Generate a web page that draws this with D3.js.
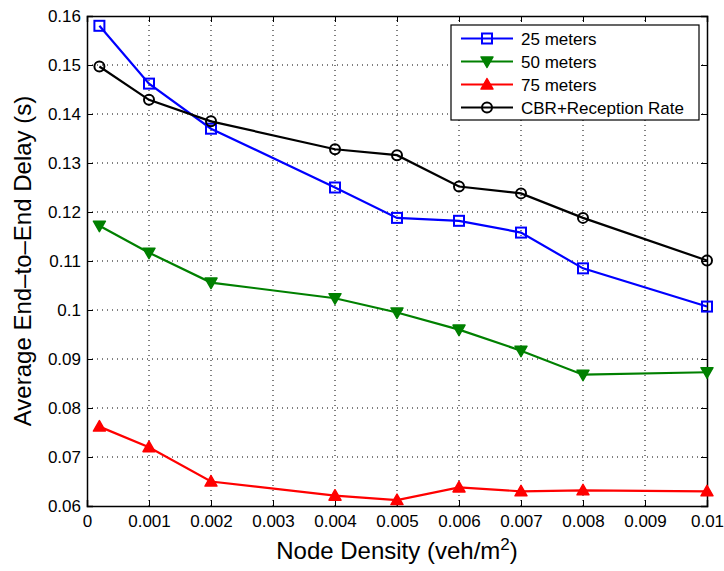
<!DOCTYPE html>
<html>
<head>
<meta charset="utf-8">
<script src="https://d3js.org/d3.v7.min.js"></script>
<style>
  body { margin: 0; background: #fff; }
  svg text { font-family: "Liberation Sans", Arial, Helvetica, sans-serif; }
</style>
</head>
<body>
<svg width="724" height="571"></svg>
<script>
// data
const density = [0.0002, 0.001, 0.002, 0.004, 0.005, 0.006, 0.007, 0.008, 0.01];
const m25 = [0.1580, 0.1462, 0.1370, 0.1250, 0.1188, 0.1182, 0.1158, 0.1085, 0.1007];
const m50 = [0.1172, 0.1117, 0.1056, 0.1024, 0.0995, 0.0960, 0.0917, 0.0868, 0.0873];
const m75 = [0.0762, 0.0720, 0.0650, 0.0621, 0.0612, 0.0638, 0.0630, 0.0632, 0.0630];
const cbr = [0.1497, 0.1429, 0.1385, 0.1328, 0.1316, 0.1252, 0.1238, 0.1188, 0.1101];
const xTicks = [0, 0.001, 0.002, 0.003, 0.004, 0.005, 0.006, 0.007, 0.008, 0.009, 0.01];
const yTicks = [0.06, 0.07, 0.08, 0.09, 0.1, 0.11, 0.12, 0.13, 0.14, 0.15, 0.16];

const series = [
  { name: "25 meters", values: m25, color: "#0000ff", marker: "square" },
  { name: "50 meters", values: m50, color: "#008000", marker: "tridown" },
  { name: "75 meters", values: m75, color: "#ff0000", marker: "triup" },
  { name: "CBR+Reception Rate", values: cbr, color: "#000000", marker: "circle" }
];

const svg = d3.select("svg");
const L = 87, R = 707, T = 16, B = 506;

const x = d3.scaleLinear().domain([0, 0.01]).range([L, R]);
const y = d3.scaleLinear().domain([0.06, 0.16]).range([B, T]);

// grid
const grid = svg.append("g").attr("stroke", "#000").attr("stroke-width", 1)
  .attr("stroke-dasharray", "1,4");
xTicks.slice(1, -1).forEach(t => {
  grid.append("line").attr("x1", x(t)).attr("x2", x(t)).attr("y1", B).attr("y2", T);
});
yTicks.slice(1, -1).forEach(t => {
  grid.append("line").attr("x1", L).attr("x2", R).attr("y1", y(t)).attr("y2", y(t));
});

// axes (ticks inward, box)
const fmt = d => d === 0 ? "0" : d3.format("")(+d.toFixed(3));
const axB = svg.append("g").attr("transform", `translate(0,${B})`)
  .call(d3.axisBottom(x).tickValues(xTicks).tickSize(-6).tickPadding(9).tickFormat(fmt));
const axL = svg.append("g").attr("transform", `translate(${L},0)`)
  .call(d3.axisLeft(y).tickValues(yTicks).tickSize(-6).tickPadding(6).tickFormat(fmt));
const axT = svg.append("g").attr("transform", `translate(0,${T})`)
  .call(d3.axisTop(x).tickValues(xTicks).tickSize(-6).tickFormat(""));
const axR = svg.append("g").attr("transform", `translate(${R},0)`)
  .call(d3.axisRight(y).tickValues(yTicks).tickSize(-6).tickFormat(""));
[axB, axL, axT, axR].forEach(a => {
  a.select(".domain").attr("stroke", "#000").attr("stroke-width", 1.5);
  a.selectAll(".tick line").attr("stroke", "#000");
  a.selectAll("text").attr("font-size", 17).attr("fill", "#000")
    .attr("font-family", "Liberation Sans, Arial, sans-serif");
});

// markers
function drawMarker(g, kind, cx, cy, color) {
  if (kind === "square") {
    g.append("rect").attr("x", cx - 5).attr("y", cy - 5).attr("width", 10).attr("height", 10)
      .attr("fill", "none").attr("stroke", color).attr("stroke-width", 2);
  } else if (kind === "circle") {
    g.append("circle").attr("cx", cx).attr("cy", cy).attr("r", 5)
      .attr("fill", "none").attr("stroke", color).attr("stroke-width", 2);
  } else {
    const s = kind === "triup" ? -1 : 1;
    const pts = [[cx - 6, cy - s * 4.5], [cx + 6, cy - s * 4.5], [cx, cy + s * 6]];
    g.append("polygon").attr("points", pts.map(p => p.join(",")).join(" "))
      .attr("fill", color).attr("stroke", color).attr("stroke-width", 1.5)
      .attr("stroke-linejoin", "round");
  }
}

const line = d3.line().x((d, i) => x(density[i])).y(d => y(d));
series.forEach(s => {
  const g = svg.append("g");
  g.append("path").datum(s.values).attr("d", line)
    .attr("fill", "none").attr("stroke", s.color).attr("stroke-width", 2.2);
  s.values.forEach((v, i) => drawMarker(g, s.marker, x(density[i]), y(v), s.color));
});

// legend
const lg = svg.append("g");
lg.append("rect").attr("x", 451).attr("y", 25).attr("width", 248).attr("height", 95)
  .attr("fill", "#fff").attr("stroke", "#000").attr("stroke-width", 1.2);
series.forEach((s, i) => {
  const ly = 38.5 + i * 23;
  lg.append("line").attr("x1", 461).attr("x2", 513).attr("y1", ly).attr("y2", ly)
    .attr("stroke", s.color).attr("stroke-width", 2.2);
  drawMarker(lg, s.marker, 487, ly, s.color);
  lg.append("text").attr("x", 521).attr("y", ly + 6).attr("font-size", 17)
    .attr("fill", "#000").text(s.name);
});

// axis titles
svg.append("text").attr("x", (L + R) / 2).attr("y", 559).attr("text-anchor", "middle")
  .attr("font-size", 24).attr("fill", "#000")
  .html('Node Density (veh/m<tspan dy="-9" font-size="17">2</tspan><tspan dy="9">)</tspan>');
svg.append("text").attr("transform", `translate(31,${(T + B) / 2}) rotate(-90)`)
  .attr("text-anchor", "middle").attr("font-size", 24).attr("fill", "#000")
  .text("Average End\u2013to\u2013End Delay (s)");
</script>
</body>
</html>
